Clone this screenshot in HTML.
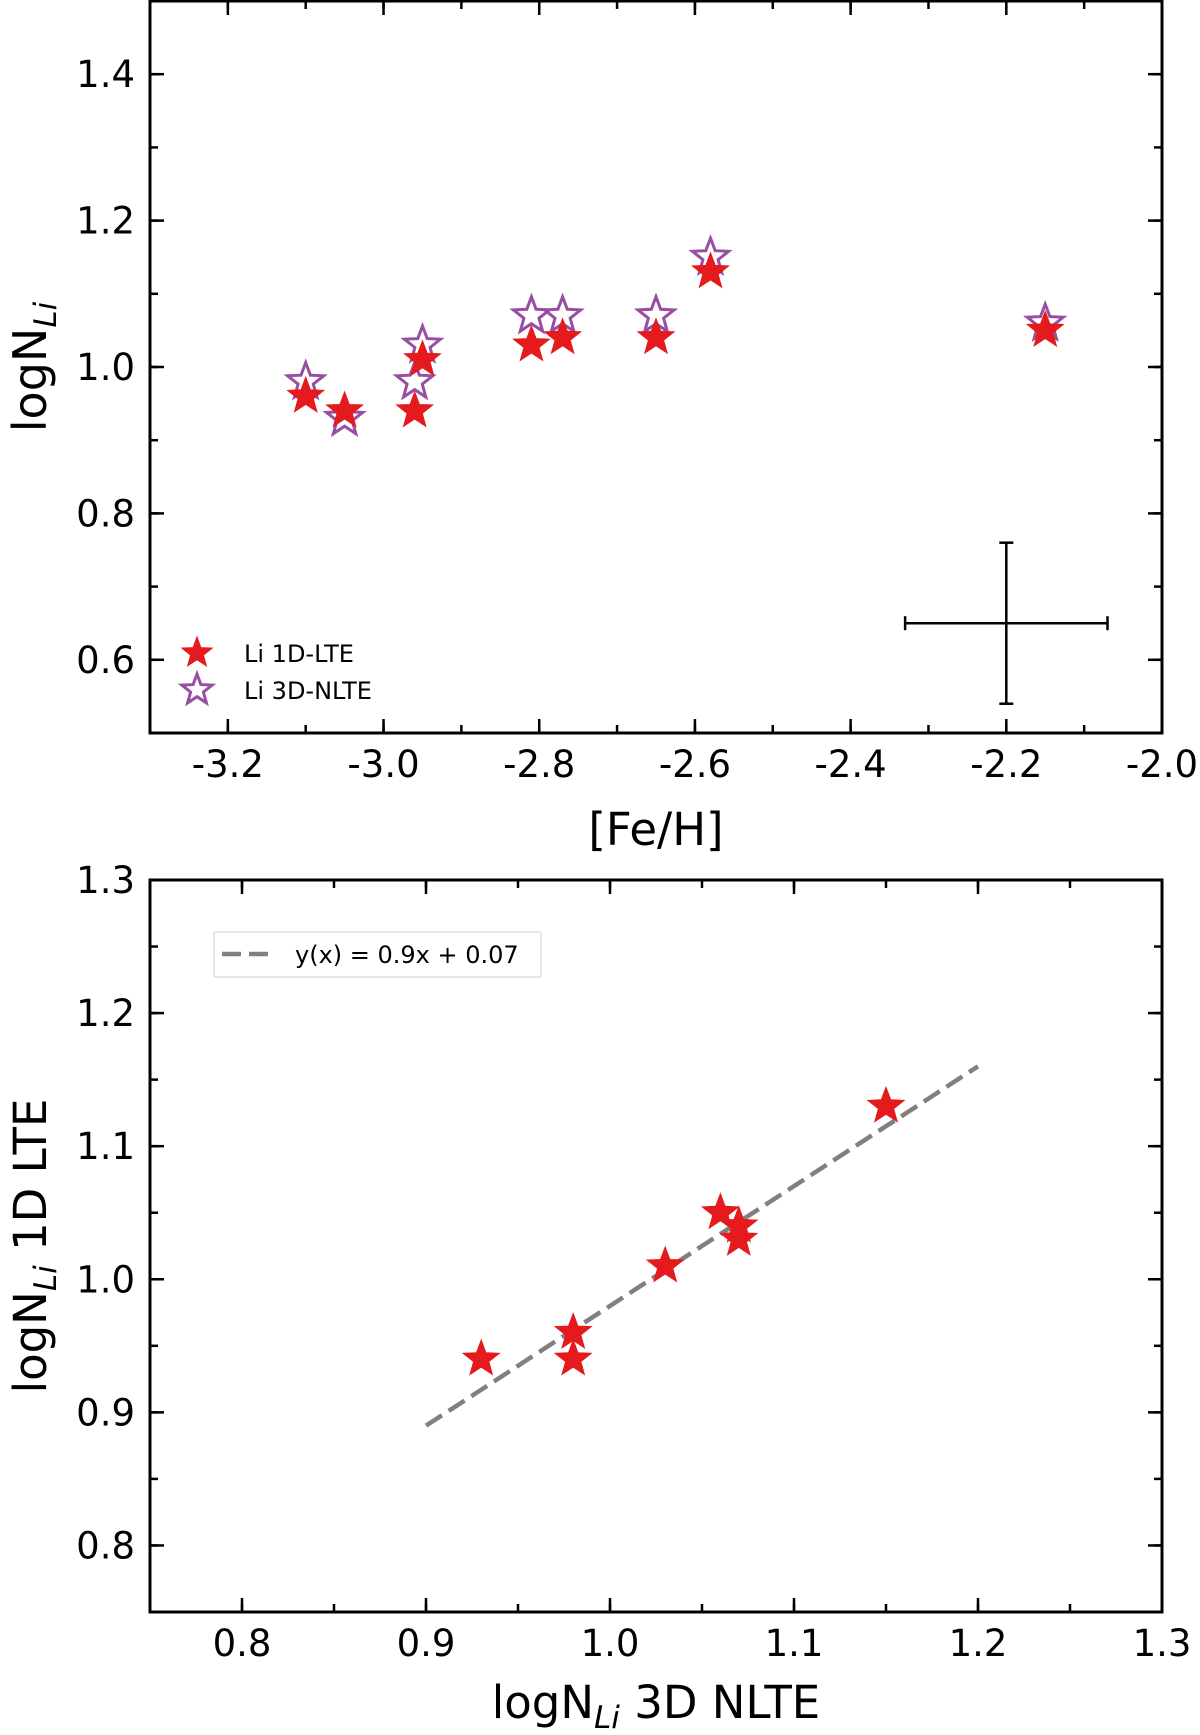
<!DOCTYPE html>
<html><head><meta charset="utf-8"><style>
html,body{margin:0;padding:0;background:#fff;}
svg{display:block;font-family:"DejaVu Sans","Liberation Sans",sans-serif;}
</style></head><body>
<svg id="fig" width="1200" height="1735" viewBox="0 0 1200 1735" xmlns="http://www.w3.org/2000/svg"></svg>
<script>
// Top panel data
const feh = [-3.10, -3.05, -2.96, -2.95, -2.81, -2.77, -2.65, -2.58, -2.15];
const li1dlte = [0.96, 0.94, 0.94, 1.01, 1.03, 1.04, 1.04, 1.13, 1.05];
const li3dnlte = [0.98, 0.93, 0.98, 1.03, 1.07, 1.07, 1.07, 1.15, 1.06];
const topXTicks = [-3.2, -3.0, -2.8, -2.6, -2.4, -2.2, -2.0];
const topYTicks = [0.6, 0.8, 1.0, 1.2, 1.4];
const errCenter = [-2.2, 0.65];
const errSize = [0.13, 0.11];
// Bottom panel data
const botX = [0.98, 0.93, 0.98, 1.03, 1.07, 1.07, 1.07, 1.15, 1.06];
const botY = [0.96, 0.94, 0.94, 1.01, 1.03, 1.04, 1.04, 1.13, 1.05];
const fitX = [0.9, 1.2];
const fitY = [0.89, 1.16];
const botXTicks = [0.8, 0.9, 1.0, 1.1, 1.2, 1.3];
const botYTicks = [0.8, 0.9, 1.0, 1.1, 1.2, 1.3];

const NS = "http://www.w3.org/2000/svg";
const svg = document.getElementById('fig');
function el(tag, attrs, parent) {
  const e = document.createElementNS(NS, tag);
  for (const k in attrs) e.setAttribute(k, attrs[k]);
  (parent || svg).appendChild(e);
  return e;
}
function starPath(cx, cy, R) {
  const r = R * 0.42; let d = "";
  for (let i = 0; i < 10; i++) {
    const a = -Math.PI / 2 + i * Math.PI / 5;
    const rr = i % 2 ? r : R;
    d += (i ? "L" : "M") + (cx + rr * Math.cos(a)).toFixed(1) + "," + (cy + rr * Math.sin(a)).toFixed(1);
  }
  return d + "Z";
}
function fmt(v) { return v.toFixed(1); }

function axesFrame(L, T, R, B, xmin, xmax, ymin, ymax, xt, yt, minorX, minorY, name) {
  const sx = v => L + (v - xmin) / (xmax - xmin) * (R - L);
  const sy = v => B - (v - ymin) / (ymax - ymin) * (B - T);
  const g = el('g', {});
  
  
  for (let v = Math.ceil(xmin / minorX - 1e-6) * minorX; v <= xmax + 1e-9; v += minorX) {
    const x = sx(v);
    el('line', {x1: x, x2: x, y1: B, y2: B - 8, stroke: '#000', 'stroke-width': 2.5}, g);
    el('line', {x1: x, x2: x, y1: T, y2: T + 8, stroke: '#000', 'stroke-width': 2.5}, g);
  }
  for (let v = Math.ceil(ymin / minorY - 1e-6) * minorY; v <= ymax + 1e-9; v += minorY) {
    const y = sy(v);
    el('line', {x1: L, x2: L + 8, y1: y, y2: y, stroke: '#000', 'stroke-width': 2.5}, g);
    el('line', {x1: R, x2: R - 8, y1: y, y2: y, stroke: '#000', 'stroke-width': 2.5}, g);
  }
  xt.forEach(v => {
    const x = sx(v);
    el('line', {x1: x, x2: x, y1: B, y2: B - 14, stroke: '#000', 'stroke-width': 2.5}, g);
    el('line', {x1: x, x2: x, y1: T, y2: T + 14, stroke: '#000', 'stroke-width': 2.5}, g);
    const t = el('text', {x: x, y: B + 44, 'font-size': 37, 'text-anchor': 'middle', fill: '#000'}, g);
    t.textContent = fmt(v);
    
    
  });
  yt.forEach(v => {
    const y = sy(v);
    el('line', {x1: L, x2: L + 14, y1: y, y2: y, stroke: '#000', 'stroke-width': 2.5}, g);
    el('line', {x1: R, x2: R - 14, y1: y, y2: y, stroke: '#000', 'stroke-width': 2.5}, g);
    const t = el('text', {x: L - 15, y: y + 13, 'font-size': 37, 'text-anchor': 'end', fill: '#000'}, g);
    t.textContent = fmt(v);
    
    
  });
  el('rect', {x: L, y: T, width: R - L, height: B - T, fill: 'none', stroke: '#000', 'stroke-width': 3}, g);
  return {sx, sy};
}

// ---------- TOP PANEL ----------
const A = axesFrame(150, 1, 1162, 733, -3.3, -2.0, 0.5, 1.5, topXTicks, topYTicks, 0.1, 0.1, 'top');
{
  const g = el('g', {});
  
  
  const cx = A.sx(errCenter[0]), cy = A.sy(errCenter[1]);
  const x1 = A.sx(errCenter[0] - errSize[0]), x2 = A.sx(errCenter[0] + errSize[0]);
  const y1 = A.sy(errCenter[1] + errSize[1]), y2 = A.sy(errCenter[1] - errSize[1]);
  el('line', {x1: x1, x2: x2, y1: cy, y2: cy, stroke: '#000', 'stroke-width': 2.5}, g);
  el('line', {x1: cx, x2: cx, y1: y1, y2: y2, stroke: '#000', 'stroke-width': 2.5}, g);
  el('line', {x1: x1, x2: x1, y1: cy - 7, y2: cy + 7, stroke: '#000', 'stroke-width': 2.5}, g);
  el('line', {x1: x2, x2: x2, y1: cy - 7, y2: cy + 7, stroke: '#000', 'stroke-width': 2.5}, g);
  el('line', {x1: cx - 7, x2: cx + 7, y1: y1, y2: y1, stroke: '#000', 'stroke-width': 2.5}, g);
  el('line', {x1: cx - 7, x2: cx + 7, y1: y2, y2: y2, stroke: '#000', 'stroke-width': 2.5}, g);
}
feh.forEach((v, i) => {
  const p = el('path', {d: starPath(A.sx(v), A.sy(li3dnlte[i]), 19), fill: 'none', stroke: '#984ea3', 'stroke-width': 3});
  
  
});
feh.forEach((v, i) => {
  const p = el('path', {d: starPath(A.sx(v), A.sy(li1dlte[i]), 19), fill: '#e41a1c', stroke: '#e41a1c', 'stroke-width': 1});
  
  
});
{
  const g = el('g', {});
  
  
  el('path', {d: starPath(197, 653, 16), fill: '#e41a1c', stroke: '#e41a1c'}, g);
  el('path', {d: starPath(197, 690, 16), fill: 'none', stroke: '#984ea3', 'stroke-width': 3}, g);
  const t1 = el('text', {x: 244, y: 662, 'font-size': 24}, g); t1.textContent = 'Li 1D-LTE';
  
  
  const t2 = el('text', {x: 244, y: 699, 'font-size': 24}, g); t2.textContent = 'Li 3D-NLTE';
  
  
}
{
  const t = el('text', {x: 656, y: 845, 'font-size': 45, 'text-anchor': 'middle'});
  t.textContent = '[Fe/H]';
  
  
  const y = el('text', {transform: 'translate(46,367) rotate(-90)', 'font-size': 46, 'text-anchor': 'middle'});
  y.innerHTML = 'logN<tspan font-size="31" font-style="italic" dy="10">Li</tspan>';
  
  
}

// ---------- BOTTOM PANEL ----------
const B2 = axesFrame(150, 880, 1162, 1612, 0.75, 1.3, 0.75, 1.3, botXTicks, botYTicks, 0.05, 0.05, 'bottom');
{
  const l = el('line', {x1: B2.sx(fitX[0]), y1: B2.sy(fitY[0]), x2: B2.sx(fitX[1]), y2: B2.sy(fitY[1]), stroke: '#808080', 'stroke-width': 4.5, 'stroke-dasharray': '19,8'});
  
  
}
botX.forEach((v, i) => {
  const p = el('path', {d: starPath(B2.sx(v), B2.sy(botY[i]), 19), fill: '#e41a1c', stroke: '#e41a1c', 'stroke-width': 1});
  
  
});
{
  const g = el('g', {});
  
  
  el('rect', {x: 214, y: 932, width: 327, height: 45, fill: '#fff', stroke: '#ddd', 'stroke-width': 1.5, rx: 2}, g);
  el('line', {x1: 222, x2: 273, y1: 954, y2: 954, stroke: '#808080', 'stroke-width': 4.5, 'stroke-dasharray': '19,8'}, g);
  const t = el('text', {x: 295, y: 963, 'font-size': 24}, g);
  t.textContent = 'y(x) = 0.9x + 0.07';
  
  
}
{
  const t = el('text', {x: 656, y: 1718, 'font-size': 45, 'text-anchor': 'middle'});
  t.innerHTML = 'logN<tspan font-size="31" font-style="italic" dy="10">Li</tspan><tspan dy="-10"> 3D NLTE</tspan>';
  
  
  const y = el('text', {transform: 'translate(46,1246) rotate(-90)', 'font-size': 45, 'text-anchor': 'middle'});
  y.innerHTML = 'logN<tspan font-size="31" font-style="italic" dy="10">Li</tspan><tspan dy="-10"> 1D LTE</tspan>';
  
  
}
</script>
</body></html>
